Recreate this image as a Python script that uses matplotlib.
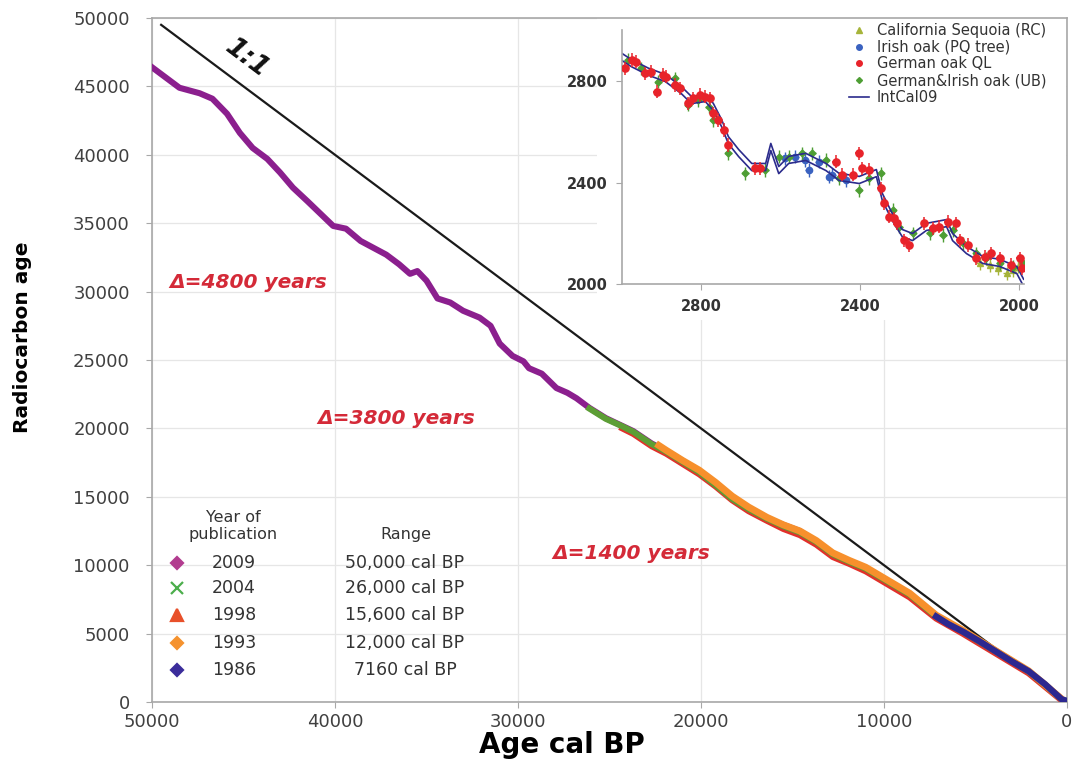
import matplotlib
matplotlib.use("Agg")
import matplotlib.pyplot as plt
from matplotlib.patches import Rectangle
from matplotlib.lines import Line2D

# ---------------- main chart data (cal BP, 14C age) ----------------
purple_x = [50000, 48500, 47400, 46700, 45900, 45200, 44500, 43700, 43000, 42300, 41500, 40800,
            40100, 39400, 38600, 37900, 37200, 36500, 35900, 35500, 35000, 34400, 33700, 33000,
            32100, 31500, 31000, 30300, 29700, 29400, 28700, 27900, 27300, 26800, 26100, 25200,
            23700, 22700, 21900, 20100, 18300, 16400, 14600, 12800, 11000, 8600, 7150, 5700,
            3900, 2100, 300]
purple_y = [46400, 44900, 44500, 44100, 43000, 41600, 40500, 39700, 38700, 37600, 36600, 35700,
            34800, 34600, 33700, 33200, 32700, 32000, 31300, 31500, 30800, 29500, 29200, 28600,
            28100, 27500, 26200, 25300, 24900, 24400, 24000, 22950, 22600, 22200, 21500, 20750,
            19800, 18900, 18350, 16900, 14900, 13400, 12500, 10800, 9800, 7900, 6300, 5200,
            3750, 2250, 220]

green_x = [26100, 25200, 24300, 23700, 22700, 21900, 21000, 20100, 19200, 18300, 17400, 16400,
           15500, 14600, 13700, 12800, 11900, 11000, 9800, 8600, 7150, 5700, 3900, 2100, 300]
green_y = [21450, 20700, 20150, 19750, 18850, 18300, 17550, 16800, 15850, 14850, 14100, 13400,
           12850, 12400, 11700, 10800, 10250, 9750, 8800, 7850, 6250, 5150, 3700, 2230, 200]

red_x = [24300, 23700, 22700, 21900, 21000, 20100, 19200, 18300, 17400, 16400, 15500, 14600,
         13700, 12800, 11900, 11000, 9800, 8600, 7150, 5700, 3900, 2100, 300]
red_y = [20000, 19600, 18700, 18150, 17400, 16650, 15750, 14750, 13950, 13250, 12650, 12200,
         11500, 10600, 10100, 9550, 8600, 7650, 6100, 5000, 3550, 2100, 120]

orange_x = [22300, 21900, 21000, 20100, 19200, 18300, 17400, 16400, 15500, 14600, 13700, 12800,
            11900, 11000, 9800, 8600, 7150, 5700, 3900, 2100, 300]
orange_y = [18750, 18400, 17650, 16950, 16050, 15050, 14250, 13500, 12950, 12500, 11800, 10900,
            10350, 9850, 8900, 7950, 6350, 5250, 3750, 2280, 230]

blue_x = [7150, 6500, 5700, 4800, 3900, 3000, 2100, 1200, 300, 100]
blue_y = [6250, 5700, 5150, 4450, 3700, 2950, 2250, 1300, 200, 120]

one_to_one = [49500, 0]

legend_years = ["2009", "2004", "1998", "1993", "1986"]
legend_ranges = ["50,000 cal BP", "26,000 cal BP", "15,600 cal BP", "12,000 cal BP", "7160 cal BP"]

delta_labels = ["\u0394=4800 years", "\u0394=3800 years", "\u0394=1400 years"]
delta_x = [44760, 36680, 23800]
delta_y = [30700, 20690, 10820]

# ---------------- inset data ----------------
intcal_x = [3010, 2977, 2934, 2891, 2851, 2825, 2790, 2770, 2749, 2732, 2706, 2673, 2638, 2625,
            2605, 2580, 2537, 2486, 2453, 2402, 2359, 2344, 2319, 2294, 2268, 2233, 2182, 2167,
            2132, 2091, 2048, 2005, 1988]
intcal_y = [2905, 2871, 2837, 2812, 2765, 2725, 2733, 2698, 2634, 2567, 2516, 2461, 2461, 2540,
            2449, 2489, 2501, 2461, 2422, 2410, 2437, 2343, 2264, 2201, 2185, 2225, 2240, 2185,
            2134, 2095, 2083, 2055, 2005]
intcal_sigma = 14

ql_x = [2993, 2976, 2964, 2943, 2926, 2913, 2896, 2888, 2867, 2854, 2833, 2820, 2803, 2791, 2778,
        2770, 2757, 2744, 2732, 2664, 2652, 2462, 2445, 2419, 2403, 2394, 2377, 2348, 2339, 2327,
        2314, 2306, 2289, 2276, 2238, 2217, 2200, 2179, 2158, 2149, 2128, 2107, 2086, 2069, 2048,
        2019, 1997, 1993]
ql_y = [2850, 2883, 2876, 2830, 2837, 2758, 2824, 2817, 2784, 2771, 2712, 2732, 2745, 2738, 2732,
        2673, 2646, 2607, 2548, 2456, 2456, 2482, 2430, 2430, 2515, 2456, 2449, 2377, 2318, 2265,
        2259, 2239, 2173, 2154, 2239, 2219, 2226, 2246, 2239, 2173, 2154, 2101, 2108, 2121, 2101,
        2075, 2101, 2062]

ub_x = [2985, 2951, 2909, 2867, 2833, 2808, 2782, 2770, 2732, 2689, 2639, 2605, 2580, 2546, 2521,
        2487, 2453, 2403, 2377, 2348, 2318, 2301, 2267, 2225, 2191, 2166, 2141, 2107, 2082, 2048,
        2014, 1989]
ub_y = [2883, 2850, 2797, 2811, 2706, 2725, 2699, 2646, 2515, 2436, 2449, 2502, 2502, 2515, 2515,
        2489, 2416, 2370, 2416, 2436, 2292, 2226, 2200, 2200, 2193, 2213, 2160, 2121, 2101, 2081,
        2068, 2081]

pq_x = [2588, 2563, 2538, 2529, 2504, 2478, 2470, 2436]
pq_y = [2495, 2502, 2489, 2449, 2482, 2423, 2430, 2410]

rc_x = [2099, 2073, 2052, 2031, 2014, 2002]
rc_y = [2081, 2075, 2062, 2042, 2055, 2068]

inset_err_y = 26
inset_err_x = 9

# ---------------- figure ----------------
W, H = 1076, 765
fig = plt.figure(figsize=(W / 100, H / 100), dpi=100)


def fx(px):
    return px / W


def fy(py):
    return 1 - py / H


ax = fig.add_axes([fx(152), fy(702), (1067 - 152) / W, (702 - 18) / H])
ax.set_xlim(50000, 0)
ax.set_ylim(0, 50000)
ax.set_xticks(range(0, 50001, 10000))
ax.set_yticks(range(0, 50001, 5000))
ax.set_axisbelow(True)
ax.grid(True, color="#e6e6e6", lw=0.9)
for s in ax.spines.values():
    s.set_color("#a8a8a8")
    s.set_linewidth(1.2)
ax.tick_params(axis="both", colors="#a8a8a8", labelcolor="#404040", labelsize=13,
               length=4, direction="out")
ax.tick_params(axis="y", pad=12)
ax.tick_params(axis="x", pad=4)

ax.set_ylabel("Radiocarbon age", fontsize=14.5, fontweight="bold", color="black")
ax.yaxis.label.set_va("center")
ax.yaxis.set_label_coords((23 - 152) / 915, (702 - 337) / 684)
ax.set_xlabel("Age cal BP", fontsize=20, fontweight="bold", color="black")
ax.xaxis.label.set_va("center")
ax.xaxis.set_label_coords((562 - 152) / 915, (702 - 745) / 684)

c_purple = "#8b1f8e"
c_green = "#5c9e35"
c_red = "#e2302a"
c_orange = "#f7902c"
c_blue = "#2c2890"

ax.plot(one_to_one, one_to_one, color="#1a1a1a", lw=1.6, zorder=2)
ax.plot(purple_x, purple_y, color=c_purple, lw=4.4, solid_joinstyle="round", zorder=3)
ax.plot(red_x, red_y, color=c_red, lw=4.4, solid_joinstyle="round", zorder=3.1)
ax.plot(green_x, green_y, color=c_green, lw=4.4, solid_joinstyle="round", zorder=3.2)
ax.plot(orange_x, orange_y, color=c_orange, lw=5, solid_joinstyle="round", zorder=3.3)
ax.plot(blue_x, blue_y, color=c_blue, lw=4.6, solid_joinstyle="round", zorder=3.4)

ax.text(44800, 47000, "1:1", fontsize=19, fontweight="bold", fontstyle="italic",
        rotation=-37, ha="center", va="center", color="#111111", zorder=4)
for lab, x, y in zip(delta_labels, delta_x, delta_y):
    ax.text(x, y, lab, fontsize=14.5, fontweight="bold", fontstyle="italic",
            color="#d42a38", ha="center", va="center", zorder=4)

# white area behind the inset
ax.add_patch(Rectangle((fx(597), fy(320)), (1066 - 597) / W, (320 - 18) / H,
                       transform=fig.transFigure, facecolor="white", edgecolor="none",
                       zorder=1.5))

# custom legend (bottom-left)
fig.text(fx(233), fy(518), "Year of", fontsize=11.5, color="#333333", ha="center", va="center")
fig.text(fx(233), fy(535), "publication", fontsize=11.5, color="#333333", ha="center", va="center")
fig.text(fx(406), fy(535), "Range", fontsize=11.5, color="#333333", ha="center", va="center")
row_y = [563, 588, 615, 643, 670]
mk = [("D", "#b23c8f", 6.5), ("x", "#4cae4c", 8), ("^", "#e8502a", 8), ("D", "#f5922e", 6.5),
      ("D", "#3b2d9b", 6.5)]
for yr, rg, ry, (m, c, s) in zip(legend_years, legend_ranges, row_y, mk):
    ax.plot([fx(177)], [fy(ry)], marker=m, color=c, ms=s, mew=1.6, ls="none",
            transform=fig.transFigure, clip_on=False, zorder=5)
    fig.text(fx(234), fy(ry), yr, fontsize=12.5, color="#333333", ha="center", va="center")
    fig.text(fx(405), fy(ry), rg, fontsize=12.5, color="#333333", ha="center", va="center")

# ---------------- inset ----------------
ia = fig.add_axes([fx(622), fy(284), (1024 - 622) / W, (284 - 30.25) / H])
ia.set_facecolor("white")
ia.set_xlim(3000, 1987)
ia.set_ylim(2000, 3000)
ia.set_xticks([2800, 2400, 2000])
ia.set_yticks([2000, 2400, 2800])
for side in ["top", "right"]:
    ia.spines[side].set_visible(False)
for side in ["left", "bottom"]:
    ia.spines[side].set_color("#a8a8a8")
    ia.spines[side].set_linewidth(1.2)
ia.tick_params(axis="both", colors="#a8a8a8", labelcolor="#333333", labelsize=10.5,
               length=4, direction="out")
ia.tick_params(axis="x", pad=7)
ia.tick_params(axis="y", pad=6)
for lab in ia.get_xticklabels() + ia.get_yticklabels():
    lab.set_fontweight("bold")

c_rc = "#a6b43a"
c_pq = "#3a62c0"
c_ql = "#e8232a"
c_ub = "#4e9e34"
c_ic = "#2b2b8c"

ia.errorbar(rc_x, rc_y, yerr=inset_err_y, xerr=inset_err_x, fmt="^", ms=4.5, color=c_rc,
            elinewidth=1, capsize=0, zorder=2)
ia.errorbar(pq_x, pq_y, yerr=inset_err_y, xerr=inset_err_x, fmt="o", ms=4.5, color=c_pq,
            elinewidth=1, capsize=0, zorder=2.1)
ia.errorbar(ub_x, ub_y, yerr=inset_err_y, xerr=inset_err_x, fmt="D", ms=3.5, color=c_ub,
            elinewidth=1, capsize=0, zorder=2.2)
upper = [v + intcal_sigma for v in intcal_y]
lower = [v - intcal_sigma for v in intcal_y]
ia.plot(intcal_x, upper, color=c_ic, lw=1.2, zorder=2.5)
ia.plot(intcal_x, lower, color=c_ic, lw=1.2, zorder=2.5)
ia.errorbar(ql_x, ql_y, yerr=inset_err_y, xerr=inset_err_x, fmt="o", ms=5.2, color=c_ql,
            elinewidth=1.1, capsize=0, zorder=3)

hand = [Line2D([], [], marker="^", color=c_rc, ls="none", ms=4),
        Line2D([], [], marker="o", color=c_pq, ls="none", ms=4),
        Line2D([], [], marker="o", color=c_ql, ls="none", ms=4),
        Line2D([], [], marker="D", color=c_ub, ls="none", ms=3),
        Line2D([], [], color=c_ic, lw=1.2)]
labs = ["California Sequoia (RC)", "Irish oak (PQ tree)", "German oak QL",
        "German&Irish oak (UB)", "IntCal09"]
leg = fig.legend(hand, labs, loc="upper right", bbox_to_anchor=(fx(1049), fy(20)),
                 frameon=False, fontsize=10.5, labelspacing=0.12, handlelength=1.4,
                 handletextpad=0.5, borderaxespad=0, borderpad=0.2)
for t in leg.get_texts():
    t.set_color("#333333")

fig.savefig("out.png", dpi=100)
